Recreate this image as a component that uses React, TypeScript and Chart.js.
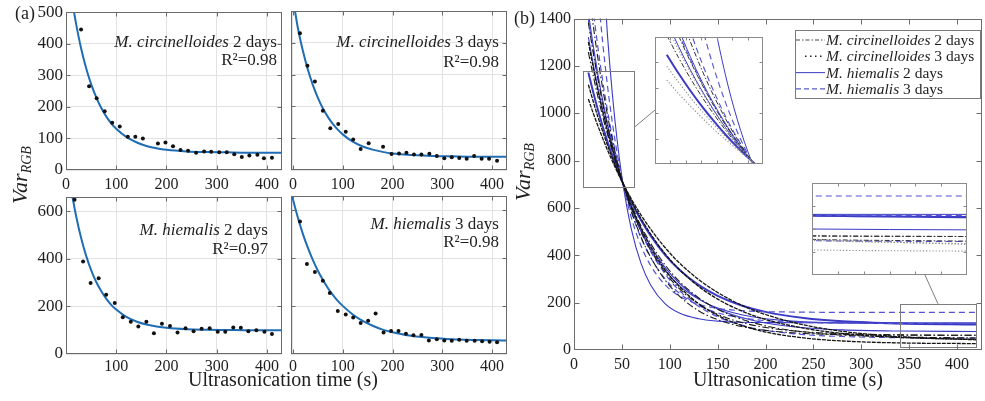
import React, { useEffect, useRef } from "react";
import { Chart, registerables } from "chart.js";

Chart.register(...registerables);

const SERIF = "'Liberation Serif', 'Times New Roman', Times, serif";
const INK = "#1e1e1e";
const FIT_BLUE = "#1f6db5";

// ---------------- Panel (a) data ----------------
const mc2Time = [30, 46, 61, 77, 92, 107, 123, 138, 153, 183, 198, 213, 228, 243, 259, 275, 289, 305, 320, 335, 350, 365, 381, 394, 410];
const mc2Var = [445, 265, 227, 186, 150, 138, 105, 105, 100, 84, 87, 75, 63, 61, 55, 59, 58, 56, 56, 50, 41, 46, 48, 37, 39];
const mc2FitTime = [16, 20, 30, 40, 50, 60, 70, 80, 90, 100, 120, 140, 160, 180, 200, 240, 280, 320, 360, 430];
const mc2FitVar = [500, 464, 386, 323, 272, 231, 197, 170, 148, 131, 105, 88, 76, 69, 64, 59, 57, 56, 55, 55];

const mc3Time = [14, 29, 44, 60, 75, 91, 106, 121, 136, 152, 181, 198, 213, 228, 243, 258, 274, 289, 304, 319, 334, 349, 364, 379, 394, 410];
const mc3Var = [430, 328, 278, 186, 131, 145, 120, 96, 66, 84, 73, 50, 52, 54, 49, 49, 51, 44, 37, 40, 38, 35, 44, 35, 35, 29];
const mc3FitTime = [4, 10, 20, 30, 40, 50, 60, 70, 80, 90, 100, 120, 140, 160, 180, 200, 240, 280, 320, 360, 430];
const mc3FitVar = [500, 445, 374, 315, 267, 227, 194, 167, 145, 127, 112, 89, 74, 64, 57, 52, 47, 44, 43, 42, 42];

const mh2Time = [17, 34, 49, 65, 80, 97, 113, 129, 144, 160, 175, 191, 207, 222, 238, 254, 270, 286, 302, 317, 333, 348, 363, 379, 395, 410];
const mh2Var = [649, 389, 299, 319, 249, 215, 155, 136, 116, 136, 87, 127, 118, 91, 108, 96, 106, 108, 94, 94, 112, 110, 96, 100, 94, 84];
const mh2FitTime = [13, 20, 30, 40, 50, 60, 70, 80, 90, 100, 120, 140, 160, 180, 200, 240, 280, 320, 360, 430];
const mh2FitVar = [660, 582, 489, 414, 353, 304, 265, 233, 207, 187, 156, 137, 124, 116, 110, 104, 102, 101, 100, 100];

const mh3Time = [14, 28, 44, 60, 74, 90, 106, 121, 136, 151, 166, 182, 197, 212, 227, 242, 258, 273, 289, 304, 319, 334, 349, 365, 380, 395, 410];
const mh3Var = [553, 376, 343, 306, 255, 180, 165, 152, 130, 139, 169, 90, 96, 96, 85, 78, 79, 56, 62, 56, 55, 60, 55, 55, 53, 51, 49];
const mh3FitTime = [-4, 0, 10, 20, 30, 40, 50, 60, 70, 80, 90, 100, 120, 140, 160, 180, 200, 240, 280, 320, 360, 400, 430];
const mh3FitVar = [679, 645, 568, 501, 443, 392, 348, 310, 276, 247, 222, 201, 165, 138, 118, 102, 91, 75, 67, 62, 59, 57, 56];

// ---------------- Panel (b) data ----------------
const bTime = [15, 20, 25, 30, 35, 40, 45, 51, 60, 70, 80, 95, 110, 130, 150, 175, 200, 240, 280, 340, 420];
const mc2Fit1 = [1383, 1257, 1144, 1041, 947, 863, 787, 705, 599, 502, 422, 329, 259, 194, 151, 116, 95, 77, 69, 64, 62];
const mc2Fit2 = [1258, 1160, 1069, 986, 910, 840, 775, 705, 612, 524, 450, 360, 290, 221, 172, 130, 102, 76, 63, 55, 51];
const mc2Fit3 = [1534, 1374, 1231, 1104, 991, 890, 800, 705, 585, 477, 392, 296, 228, 166, 128, 99, 83, 70, 65, 63, 62];
const mc3Fit1 = [1121, 1051, 984, 923, 865, 811, 761, 705, 629, 555, 490, 407, 340, 269, 215, 165, 129, 92, 70, 53, 45];
const mc3Fit2 = [1060, 1001, 946, 894, 844, 798, 754, 705, 637, 570, 511, 433, 368, 298, 243, 189, 150, 106, 79, 56, 43];
const mc3Fit3 = [1301, 1194, 1096, 1007, 924, 849, 780, 705, 606, 513, 435, 340, 268, 196, 146, 104, 76, 51, 38, 30, 27];
const mh2Fit1 = [3096, 2496, 2016, 1633, 1327, 1083, 888, 705, 509, 366, 275, 196, 156, 132, 122, 117, 116, 115, 115, 115, 115];
const mh2Fit2 = [1424, 1287, 1164, 1054, 956, 868, 789, 705, 598, 502, 424, 336, 272, 215, 177, 149, 132, 119, 114, 111, 110];
const mh2Fit3 = [1322, 1209, 1106, 1013, 928, 851, 781, 705, 606, 515, 439, 349, 282, 217, 173, 137, 114, 94, 85, 80, 78];
const mh2Fit4 = [1172, 1090, 1014, 944, 880, 820, 765, 705, 625, 548, 483, 402, 339, 275, 229, 188, 161, 135, 121, 112, 108];
const mh3Fit1 = [2084, 1775, 1515, 1297, 1115, 962, 833, 705, 557, 440, 357, 276, 228, 193, 176, 166, 162, 160, 159, 159, 159];
const mh3Fit2 = [1624, 1440, 1278, 1136, 1011, 901, 805, 705, 581, 474, 391, 301, 240, 188, 157, 136, 124, 116, 114, 112, 112];
const mh3Fit3 = [1395, 1268, 1152, 1047, 952, 866, 789, 705, 597, 498, 417, 322, 251, 185, 140, 105, 83, 65, 57, 52, 50];

const bSeries = [
  { v: mc3Fit1, s: "mc3" },
  { v: mc3Fit2, s: "mc3" },
  { v: mc3Fit3, s: "mc3" },
  { v: mc2Fit1, s: "mc2" },
  { v: mc2Fit2, s: "mc2" },
  { v: mc2Fit3, s: "mc2" },
  { v: mh3Fit1, s: "mh3" },
  { v: mh3Fit2, s: "mh3" },
  { v: mh3Fit3, s: "mh3" },
  { v: mh2Fit1, s: "mh2" },
  { v: mh2Fit2, s: "mh2" },
  { v: mh2Fit3, s: "mh2" },
  { v: mh2Fit4, s: "mh2", w: 2 },
];

const legendRows = [
  { species: "M. circinelloides", days: " 2 days", s: "mc2" },
  { species: "M. circinelloides", days: " 3 days", s: "mc3" },
  { species: "M. hiemalis", days: " 2 days", s: "mh2" },
  { species: "M. hiemalis", days: " 3 days", s: "mh3" },
];

// ---------------- styles & layout ----------------
const mainStyles: any = {
  mc2: { color: "#1a1a1a", dash: [7, 2.5, 1.5, 2.5], width: 1.1 },
  mc3: { color: "#141414", dash: [4, 1], width: 1.3 },
  mh2: { color: "#3b3bc6", dash: [], width: 1.1 },
  mh3: { color: "#5252d2", dash: [6, 4], width: 1.2 },
};
const insetStyles: any = {
  mc2: { color: "#333", dash: [5, 2, 1.5, 2], width: 1 },
  mc3: { color: "#8a8a8a", dash: [1.2, 2], width: 1.1 },
  mh2: { color: "#3b3bc6", dash: [], width: 1 },
  mh3: { color: "#5252d2", dash: [6, 4], width: 1.1 },
};
const legendStyles: any = {
  mc2: { color: "#444", dash: [4, 2, 1.5, 2], width: 1, x0: 1 },
  mc3: { color: "#222", dash: [1.5, 3.5], width: 1.4, x0: 10 },
  mh2: { color: "#4a4ac8", dash: [], width: 1.1, x0: 1 },
  mh3: { color: "#5a5ad2", dash: [5, 3], width: 1.1, x0: 1 },
};

const PAD = 12;
const R_TL = { l: 66, t: 11, r: 282, b: 170 };
const R_TR = { l: 291, t: 11, r: 507, b: 170 };
const R_BL = { l: 66, t: 196, r: 282, b: 354 };
const R_BR = { l: 291, t: 196, r: 507, b: 354 };
const R_B = { l: 574, t: 18, r: 982, b: 350 };
const R_IN1 = { l: 655, t: 37, r: 763, b: 164 };
const R_IN2 = { l: 812, t: 183, r: 967, b: 275 };
const B_AXIS_W = 48;

const zoomBoxes = [
  { x0: 9, x1: 63, y0: 688, y1: 1180, ax: 63, ay: 941, tx: R_IN1.l, ty: 110 },
  { x0: 340, x1: 420, y0: 12, y1: 195, ax: 380, ay: 195, tx: 925, ty: R_IN2.b },
];

// ---------------- plugins ----------------
const framePlugin = {
  id: "frame",
  afterDatasetsDraw(chart: any, _a: any, o: any) {
    const { ctx, chartArea: a, scales } = chart;
    ctx.save();
    ctx.strokeStyle = o.color;
    ctx.lineWidth = 1;
    const L = Math.round(a.left) + 0.5;
    const R = Math.round(a.right) - 0.5;
    const T = Math.round(a.top) + 0.5;
    const B = Math.round(a.bottom) - 0.5;
    ctx.strokeRect(L, T, R - L, B - T);
    const len = o.tick;
    ctx.beginPath();
    for (const t of scales.x.ticks) {
      const px = Math.round(scales.x.getPixelForValue(t.value)) + 0.5;
      if (px < L + 2 || px > R - 2) continue;
      ctx.moveTo(px, B);
      ctx.lineTo(px, B - len);
      ctx.moveTo(px, T);
      ctx.lineTo(px, T + len);
    }
    for (const t of scales.y.ticks) {
      const py = Math.round(scales.y.getPixelForValue(t.value)) + 0.5;
      if (py < T + 2 || py > B - 2) continue;
      ctx.moveTo(L, py);
      ctx.lineTo(L + len, py);
      ctx.moveTo(R, py);
      ctx.lineTo(R - len, py);
    }
    ctx.stroke();
    ctx.restore();
  },
};

const whiteBgPlugin = {
  id: "whiteBg",
  beforeDraw(chart: any) {
    const { ctx, chartArea: a } = chart;
    ctx.save();
    ctx.fillStyle = "#ffffff";
    ctx.fillRect(a.left, a.top, a.right - a.left, a.bottom - a.top);
    ctx.restore();
  },
};

const zoomDecorPlugin = {
  id: "zoomDecor",
  afterDatasetsDraw(chart: any) {
    const { ctx, scales } = chart;
    const offX = R_B.l - B_AXIS_W - PAD;
    const offY = R_B.t - PAD;
    ctx.save();
    ctx.strokeStyle = "#7d7d7d";
    ctx.lineWidth = 1;
    for (const z of zoomBoxes) {
      const x0 = Math.round(scales.x.getPixelForValue(z.x0)) + 0.5;
      const x1 = Math.round(scales.x.getPixelForValue(z.x1)) + 0.5;
      const y0 = Math.round(scales.y.getPixelForValue(z.y0)) + 0.5;
      const y1 = Math.round(scales.y.getPixelForValue(z.y1)) + 0.5;
      ctx.strokeRect(x0, y1, x1 - x0, y0 - y1);
      ctx.beginPath();
      ctx.moveTo(scales.x.getPixelForValue(z.ax), scales.y.getPixelForValue(z.ay));
      ctx.lineTo(z.tx - offX, z.ty - offY);
      ctx.stroke();
    }
    ctx.restore();
  },
};

const legendPlugin = {
  id: "bLegend",
  afterDraw(chart: any) {
    const { ctx, chartArea: a } = chart;
    const bx = Math.round(a.left) + 221;
    const by = Math.round(a.top) + 11;
    const bw = 185;
    const bh = 68;
    ctx.save();
    ctx.fillStyle = "#ffffff";
    ctx.fillRect(bx, by, bw, bh);
    ctx.strokeStyle = "#7a7a7a";
    ctx.lineWidth = 1;
    ctx.strokeRect(bx + 0.5, by + 0.5, bw, bh);
    legendRows.forEach((r, i) => {
      const base = by + 15 + i * 16.3;
      const st = legendStyles[r.s];
      ctx.strokeStyle = st.color;
      ctx.lineWidth = st.width;
      ctx.setLineDash(st.dash);
      ctx.beginPath();
      ctx.moveTo(bx + st.x0, base - 5);
      ctx.lineTo(bx + 30, base - 5);
      ctx.stroke();
      ctx.setLineDash([]);
      ctx.fillStyle = INK;
      ctx.textBaseline = "alphabetic";
      ctx.textAlign = "left";
      const tx = bx + 31;
      ctx.font = `italic 15.5px ${SERIF}`;
      ctx.fillText(r.species, tx, base);
      const w = ctx.measureText(r.species).width;
      ctx.font = `15.5px ${SERIF}`;
      ctx.fillText(r.days, tx + w, base);
    });
    ctx.restore();
  },
};

// ---------------- helpers ----------------
function axis(min: number, max: number, o: any) {
  const ticks: any = {
    display: !!o.labels,
    includeBounds: false,
    autoSkip: false,
    maxRotation: 0,
    minRotation: 0,
    padding: o.pad ?? 3,
    color: INK,
    font: { family: SERIF, size: o.size ?? 16 },
    callback: (v: number) => (o.hide0 && v === 0 ? "" : String(v)),
  };
  if (o.step !== undefined) ticks.stepSize = o.step;
  if (o.count !== undefined) ticks.count = o.count;
  return {
    type: "linear",
    min,
    max,
    ticks,
    grid: { display: !!o.grid, color: "#e2e2e2", lineWidth: 1, drawTicks: false },
    border: { display: false },
  };
}

function pts(xs: number[], ys: number[]) {
  return xs.map((x, i) => ({ x, y: ys[i] }));
}

function makePanelA(p: any) {
  return () => ({
    type: "scatter",
    data: {
      datasets: [
        {
          data: pts(p.t, p.v),
          pointRadius: 2,
          pointBackgroundColor: "#111",
          pointBorderWidth: 0,
          showLine: false,
        },
        {
          data: pts(p.ft, p.fv),
          showLine: true,
          pointRadius: 0,
          borderColor: FIT_BLUE,
          borderWidth: 2,
          cubicInterpolationMode: "monotone",
          fill: false,
        },
      ],
    },
    options: {
      scales: {
        x: axis(p.xMin, 430, { step: 100, labels: true, size: 16, pad: p.xPad, grid: true, hide0: p.hide0 }),
        y: axis(0, p.yMax, { step: p.yStep, labels: p.yLabels, size: 17, pad: 3, grid: true }),
      },
      plugins: { frame: { color: "#6a6a6a", tick: 4 } },
    },
    plugins: [framePlugin],
  });
}

function bDatasets(inset: boolean) {
  return bSeries.map((s: any) => {
    const st = (inset ? insetStyles : mainStyles)[s.s];
    return {
      data: pts(bTime, s.v),
      showLine: true,
      pointRadius: 0,
      borderColor: st.color,
      borderWidth: s.w ?? st.width,
      borderDash: st.dash,
      cubicInterpolationMode: "monotone",
      fill: false,
    };
  });
}

const makeMainB = () => ({
  type: "scatter",
  data: { datasets: bDatasets(false) },
  options: {
    scales: {
      x: axis(0, 426, { step: 50, labels: true, size: 16, pad: 5 }),
      y: axis(0, 1400, { step: 200, labels: true, size: 16, pad: 3 }),
    },
    plugins: { frame: { color: "#6e6e6e", tick: 5 } },
  },
  plugins: [framePlugin, zoomDecorPlugin, legendPlugin],
});

function makeInset(x0: number, x1: number, y0: number, y1: number, xc: number, yc: number) {
  return () => ({
    type: "scatter",
    data: { datasets: bDatasets(true) },
    options: {
      scales: {
        x: axis(x0, x1, { count: xc, labels: false }),
        y: axis(y0, y1, { count: yc, labels: false }),
      },
      plugins: { frame: { color: "#8a8a8a", tick: 3 } },
    },
    plugins: [whiteBgPlugin, framePlugin],
  });
}

function PlotCanvas({ rect, axisW, axisH, padRight = PAD, make }: any) {
  const ref = useRef<HTMLCanvasElement | null>(null);
  const left = rect.l - axisW - PAD;
  const top = rect.t - PAD;
  const width = rect.r - rect.l + axisW + PAD + padRight;
  const height = rect.b - rect.t + axisH + 2 * PAD;
  useEffect(() => {
    const cfg: any = make();
    const o = cfg.options;
    o.responsive = false;
    o.maintainAspectRatio = false;
    o.animation = false;
    o.events = [];
    o.layout = { padding: { left: PAD, right: padRight, top: PAD, bottom: PAD } };
    o.scales.x.afterFit = (s: any) => {
      s.height = axisH;
    };
    o.scales.y.afterFit = (s: any) => {
      s.width = axisW;
    };
    o.plugins = { ...(o.plugins || {}), legend: { display: false }, tooltip: { enabled: false } };
    const chart = new Chart(ref.current as HTMLCanvasElement, cfg);
    return () => chart.destroy();
  }, []);
  return (
    <canvas
      ref={ref}
      width={width}
      height={height}
      style={{ position: "absolute", left, top, width, height }}
    />
  );
}

function Txt({ x, base, size, align = "left", children }: any) {
  const w = 400;
  const left = align === "left" ? x : align === "right" ? x - w : x - w / 2;
  return (
    <div
      style={{
        position: "absolute",
        left,
        top: base - 0.84 * size,
        width: w,
        textAlign: align,
        fontFamily: SERIF,
        fontSize: size,
        lineHeight: `${size}px`,
        whiteSpace: "nowrap",
        color: INK,
      }}
    >
      {children}
    </div>
  );
}

function VarLabel({ cx, cy }: any) {
  return (
    <div
      style={{
        position: "absolute",
        left: cx - 50,
        top: cy - 15,
        width: 100,
        height: 30,
        lineHeight: "30px",
        textAlign: "center",
        transform: "rotate(-90deg)",
        fontFamily: SERIF,
        fontSize: 22,
        fontStyle: "italic",
        color: INK,
        whiteSpace: "nowrap",
      }}
    >
      Var
      <sub style={{ fontSize: 14, lineHeight: 0, verticalAlign: "-0.25em" }}>RGB</sub>
    </div>
  );
}

export default function App() {
  return (
    <div
      style={{
        position: "absolute",
        left: 0,
        top: 0,
        width: 985,
        height: 401,
        overflow: "hidden",
        background: "#ffffff",
      }}
    >
      <PlotCanvas
        rect={R_TL}
        axisW={42}
        axisH={28}
        make={makePanelA({ t: mc2Time, v: mc2Var, ft: mc2FitTime, fv: mc2FitVar, xMin: 0, yMax: 500, yStep: 100, yLabels: true, xPad: 5, hide0: false })}
      />
      <PlotCanvas
        rect={R_TR}
        axisW={0}
        axisH={28}
        make={makePanelA({ t: mc3Time, v: mc3Var, ft: mc3FitTime, fv: mc3FitVar, xMin: -4, yMax: 500, yStep: 100, yLabels: false, xPad: 5, hide0: false })}
      />
      <PlotCanvas
        rect={R_BL}
        axisW={42}
        axisH={28}
        make={makePanelA({ t: mh2Time, v: mh2Var, ft: mh2FitTime, fv: mh2FitVar, xMin: 0, yMax: 660, yStep: 200, yLabels: true, xPad: 3, hide0: true })}
      />
      <PlotCanvas
        rect={R_BR}
        axisW={0}
        axisH={28}
        make={makePanelA({ t: mh3Time, v: mh3Var, ft: mh3FitTime, fv: mh3FitVar, xMin: -4, yMax: 660, yStep: 200, yLabels: false, xPad: 3, hide0: false })}
      />
      <PlotCanvas rect={R_B} axisW={B_AXIS_W} axisH={30} padRight={4} make={makeMainB} />
      <PlotCanvas rect={R_IN1} axisW={0} axisH={0} make={makeInset(10, 56, 690, 1250, 8, 6)} />
      <PlotCanvas rect={R_IN2} axisW={0} axisH={0} make={makeInset(340, 420, -30, 190, 7, 5)} />

      <Txt x={15} base={19} size={18}>(a)</Txt>
      <Txt x={514} base={24} size={18}>(b)</Txt>

      <Txt x={277} base={47} size={17} align="right"><i>M. circinelloides</i> 2 days</Txt>
      <Txt x={277} base={65} size={17} align="right">R²=0.98</Txt>
      <Txt x={499} base={47} size={17} align="right"><i>M. circinelloides</i> 3 days</Txt>
      <Txt x={499} base={67} size={17} align="right">R²=0.98</Txt>
      <Txt x={268} base={235} size={17} align="right"><i>M. hiemalis</i> 2 days</Txt>
      <Txt x={268} base={254} size={17} align="right">R²=0.97</Txt>
      <Txt x={499} base={229} size={17} align="right"><i>M. hiemalis</i> 3 days</Txt>
      <Txt x={499} base={247} size={17} align="right">R²=0.98</Txt>

      <Txt x={283} base={386} size={20} align="center">Ultrasonication time (s)</Txt>
      <Txt x={788} base={386} size={20} align="center">Ultrasonication time (s)</Txt>

      <VarLabel cx={19.6} cy={175} />
      <VarLabel cx={522.6} cy={172} />
    </div>
  );
}
